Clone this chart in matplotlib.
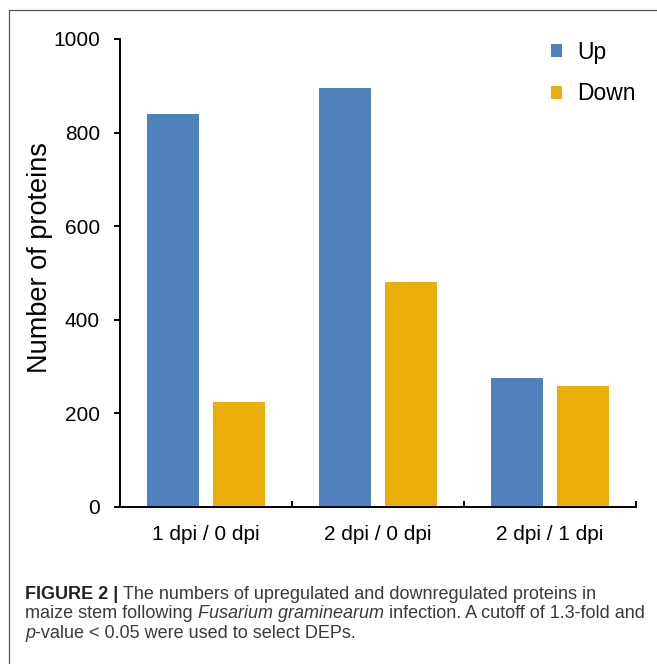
import matplotlib
matplotlib.use('Agg')
import matplotlib.pyplot as plt
import numpy as np
from matplotlib.lines import Line2D

# ---------------- data ----------------
categories = ['1 dpi / 0 dpi', '2 dpi / 0 dpi', '2 dpi / 1 dpi']
up_values = [840, 895, 275]
down_values = [225, 481, 258]
series_labels = ['Up', 'Down']
y_ticks = [0, 200, 400, 600, 800, 1000]
y_label = 'Number of proteins'

caption_lines = [
    [('FIGURE 2 | ', 'b'), ('The numbers of upregulated and downregulated proteins in', 'n')],
    [('maize stem following ', 'n'), ('Fusarium graminearum', 'i'),
     (' infection. A cutoff of 1.3-fold and', 'n')],
    [('p', 'i'), ('-value < 0.05 were used to select DEPs.', 'n')],
]

# ---------------- style ----------------
plt.rcParams['font.family'] = ['Liberation Sans', 'DejaVu Sans']
W, H = 657, 664
blue = '#4F81BD'
gold = '#EBAE0B'
cap_color = '#3a3a3a'

fig = plt.figure(figsize=(W / 100, H / 100), dpi=100)
fig.patch.set_facecolor('white')

ax = fig.add_axes([120 / W, 1 - 507 / H, 516 / W, 468 / H])
x = np.arange(len(categories))
bw = 0.305
off = 0.193
ax.bar(x - off, up_values, bw, color=blue, label=series_labels[0], linewidth=0)
ax.bar(x + off, down_values, bw, color=gold, label=series_labels[1], linewidth=0)

ax.set_xlim(-0.5, len(categories) - 0.5)
ax.set_ylim(0, 1000)
for s in ['top', 'right']:
    ax.spines[s].set_visible(False)
for s in ['left', 'bottom']:
    ax.spines[s].set_linewidth(1.4)
    ax.spines[s].set_color('black')

ax.set_yticks(y_ticks)
ax.set_yticklabels([str(v) for v in y_ticks])
ax.tick_params(axis='y', direction='out', length=4.5, width=1.4, pad=10, labelsize=15)

ax.set_xticks(list(x[:-1] + 0.5) + [len(categories) - 0.5])
ax.set_xticklabels([])
ax.set_xticks(x, minor=True)
ax.set_xticklabels(categories, minor=True)
ax.tick_params(axis='x', which='major', direction='in', length=4.5, width=1.4)
ax.tick_params(axis='x', which='minor', length=0, pad=13, labelsize=15)

ax.set_ylabel(y_label, fontsize=19.5)
ax.yaxis.set_label_coords((53 - 120) / 516, 0.534)

ax.legend(loc='upper left', bbox_to_anchor=((551 - 120) / 516, (507 - 41) / 468),
          frameon=False, fontsize=16.5, handlelength=0.48, handleheight=0.48,
          handletextpad=0.65, labelspacing=0.8, borderpad=0, borderaxespad=0)

# ---------------- frame border ----------------
fig.add_artist(Line2D([8.5 / W, 8.5 / W], [0, 1 - 9.5 / H], transform=fig.transFigure,
                      color='#555555', lw=0.9))
fig.add_artist(Line2D([8.5 / W, 1], [1 - 9.5 / H, 1 - 9.5 / H], transform=fig.transFigure,
                      color='#555555', lw=0.9))

# ---------------- caption ----------------
renderer = fig.canvas.get_renderer()


def piece_kw(style, size):
    kw = dict(fontsize=size, color=cap_color, va='baseline', ha='left')
    if style == 'b':
        kw['fontweight'] = 'bold'
        kw['color'] = '#222222'
    if style == 'i':
        kw['fontstyle'] = 'italic'
    return kw


def text_width(txt, kw):
    a = fig.text(0, 0, txt + '|', **kw)
    b = fig.text(0, 0, '|', **kw)
    w = a.get_window_extent(renderer).width - b.get_window_extent(renderer).width
    a.remove()
    b.remove()
    return w


cap_size = 13
baselines = [599, 618.5, 638]
for line, yb in zip(caption_lines, baselines):
    xp = 25
    for txt, style in line:
        kw = piece_kw(style, cap_size)
        fig.text(xp / W, 1 - yb / H, txt, **kw)
        xp += text_width(txt, kw)

fig.savefig('out.png', dpi=100)
